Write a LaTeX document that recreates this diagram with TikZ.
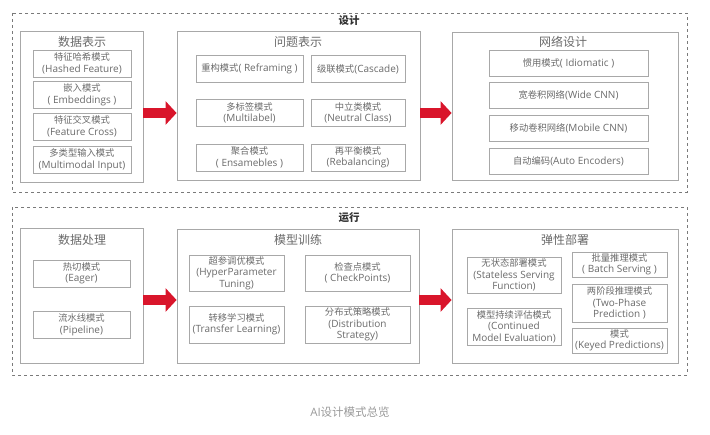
\documentclass[tikz,border=0pt]{standalone}
\usepackage{fontspec}
\setmainfont{Open Sans}
\newfontfamily\zhfont{Noto Sans CJK SC}
\newcommand{\zh}[1]{{\zhfont\fontsize{9.3}{11.5}\selectfont #1}}
\usepackage{tikz}
\usetikzlibrary{arrows.meta,positioning}
\definecolor{boxgray}{HTML}{A8A8A8}
\definecolor{framegray}{HTML}{7A7A7A}
\definecolor{txtgray}{HTML}{6A6A6A}
\definecolor{arrowred}{HTML}{D9152B}

\begin{document}
\begin{tikzpicture}[
		x=1pt, y=-1pt,
		frame/.style={draw=framegray, dashed, line width=0.8pt},
		frametitle/.style={font=\zhfont\bfseries\fontsize{10.5}{12}\selectfont, text=black!80},
		group/.style={draw=boxgray, line width=0.8pt, inner sep=0pt},
		grouptitle/.style={font=\zhfont\fontsize{12}{13}\selectfont, text=txtgray},
		item/.style={draw=boxgray, line width=0.8pt, inner sep=0pt, align=center, text=txtgray, font=\fontsize{10}{11.5}\selectfont},
		bigarrow/.style={arrowred, line width=10pt, -{Triangle[length=11pt,width=23pt]}}
		]
		\useasboundingbox (0,0) rectangle (710,435);
		
		% Design
		\draw[frame] (12,13) rectangle (687,192);
		\node[frametitle] (design) at (349,21) {设计};
		
		\node[group, minimum width=123, minimum height=151] (datarep) at (81.5,106.5) {};
		\node[grouptitle] (datareptitle) at (82,42) {数据表示};
		\node[item, minimum width=98, minimum height=27] (hashed) at (82,63.5) {\zh{特征哈希模式}\\(Hashed Feature)};
		\node[item, minimum width=98, minimum height=27] (embed) at (82,95) {\zh{嵌入模式}\\( Embeddings )};
		\node[item, minimum width=98, minimum height=27] (cross) at (82,126.5) {\zh{特征交叉模式}\\(Feature Cross)};
		\node[item, minimum width=98, minimum height=27] (multimodal) at (82,160) {\zh{多类型输入模式}\\(Multimodal Input)};
		
		\node[group, minimum width=243, minimum height=149] (problem) at (298.5,105.5) {};
		\node[grouptitle] (problemtitle) at (298,42) {问题表示};
		\node[item, minimum width=107, minimum height=27] (reframe) at (249.5,69) {\zh{重构模式}( Reframing )};
		\node[item, minimum width=94, minimum height=27] (cascade) at (358,69) {\zh{级联模式}(Cascade)};
		\node[item, minimum width=107, minimum height=27] (multilabel) at (249.5,113) {\zh{多标签模式}\\(Multilabel)};
		\node[item, minimum width=94, minimum height=27] (neutral) at (358,113) {\zh{中立类模式}\\(Neutral Class)};
		\node[item, minimum width=107, minimum height=27] (ensemble) at (249.5,157.5) {\zh{聚合模式}\\( Ensamebles )};
		\node[item, minimum width=94, minimum height=27] (rebalance) at (358,157.5) {\zh{再平衡模式}\\(Rebalancing)};
		
		\node[group, minimum width=226, minimum height=148] (network) at (565,106) {};
		\node[grouptitle] (networktitle) at (563,42) {网络设计};
		\node[item, minimum width=159, minimum height=26] (idiom) at (568.5,63.5) {\zh{惯用模式}( Idiomatic )};
		\node[item, minimum width=159, minimum height=26] (widecnn) at (568.5,95.5) {\zh{宽卷积网络}(Wide CNN)};
		\node[item, minimum width=159, minimum height=26] (mobilecnn) at (568.5,128.5) {\zh{移动卷积网络}(Mobile CNN)};
		\node[item, minimum width=159, minimum height=26] (autoenc) at (568.5,161.5) {\zh{自动编码}(Auto Encoders)};
		
		\coordinate (rowa) at (0,113);
		\draw[bigarrow] (datarep.east |- rowa) -- (problem.west |- rowa);
		\draw[bigarrow] (problem.east |- rowa) -- (network.west |- rowa);
		
		% Run
		\draw[frame] (12,207) rectangle (687,375);
		\node[frametitle] (run) at (349,218) {运行};
		
		\node[group, minimum width=123, minimum height=135] (dataproc) at (81.5,295.5) {};
		\node[grouptitle] (dataproctitle) at (82,240) {数据处理};
		\node[item, minimum width=97, minimum height=27] (eager) at (81.5,273.5) {\zh{热切模式}\\(Eager)};
		\node[item, minimum width=97, minimum height=27] (pipeline) at (81.5,325) {\zh{流水线模式}\\(Pipeline)};
		
		\node[group, minimum width=242, minimum height=134] (training) at (298,296) {};
		\node[grouptitle] (trainingtitle) at (298,240) {模型训练};
		\node[item, minimum width=95, minimum height=36] (hyper) at (236.5,273) {\zh{超参调优模式}\\(HyperParameter\\Tuning)};
		\node[item, minimum width=105, minimum height=36] (checkpt) at (357.5,273) {\zh{检查点模式}\\( CheckPoints)};
		\node[item, minimum width=95, minimum height=37] (transfer) at (236.5,324.5) {\zh{转移学习模式}\\(Transfer Learning)};
		\node[item, minimum width=105, minimum height=37] (distrib) at (357.5,324.5) {\zh{分布式策略模式}\\(Distribution\\Strategy)};
		
		\node[group, minimum width=226, minimum height=134] (deploy) at (565,296) {};
		\node[grouptitle] (deploytitle) at (565,240) {弹性部署};
		\node[item, minimum width=94, minimum height=36] (stateless) at (514,275) {\zh{无状态部署模式}\\(Stateless Serving\\Function)};
		\node[item, minimum width=94, minimum height=37] (conteval) at (514,326.5) {\zh{模型持续评估模式}\\(Continued\\Model Evaluation)};
		\node[item, minimum width=95, minimum height=25] (batch) at (619.5,264.5) {\zh{批量推理模式}\\( Batch Serving )};
		\node[item, minimum width=95, minimum height=38] (twophase) at (619.5,303) {\zh{两阶段推理模式}\\(Two-Phase\\Prediction )};
		\node[item, minimum width=95, minimum height=25] (keyed) at (619.5,340.5) {\zh{模式}\\(Keyed Predictions)};
		
		\coordinate (rowb) at (0,300);
		\draw[bigarrow] (dataproc.east |- rowb) -- (training.west |- rowb);
		\draw[bigarrow] (training.east |- rowb) -- (deploy.west |- rowb);
		
		% Caption
		\node[text=black!40, font=\fontsize{11.5}{13}\selectfont] (caption) at (350,412) {AI\zh{\fontsize{11.5}{13}\selectfont 设计模式总览}};
	\end{tikzpicture}
\end{document}
